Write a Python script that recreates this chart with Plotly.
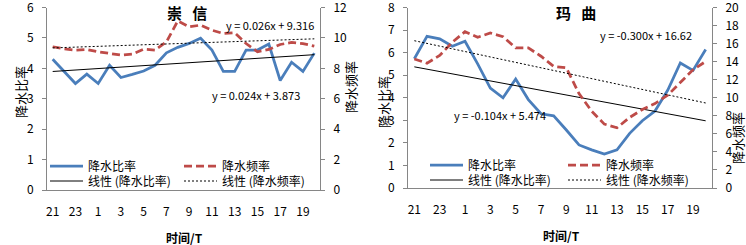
import plotly.graph_objects as go

# ---------------- data ----------------
hours = ["21", "22", "23", "0", "1", "2", "3", "4", "5", "6", "7", "8",
         "9", "10", "11", "12", "13", "14", "15", "16", "17", "18", "19", "20"]
tick_hours = ["21", "23", "1", "3", "5", "7", "9", "11", "13", "15", "17", "19"]

# 崇信
cx_ratio = [4.30, 3.90, 3.50, 3.81, 3.50, 4.10, 3.70, 3.80, 3.91, 4.10, 4.51, 4.69,
            4.82, 4.99, 4.60, 3.90, 3.90, 4.60, 4.60, 4.80, 3.60, 4.20, 3.90, 4.50]
cx_freq = [9.42, 9.28, 9.20, 9.24, 9.09, 8.98, 8.87, 8.93, 9.26, 9.20, 9.74, 11.12,
           10.73, 10.84, 10.51, 10.29, 10.34, 9.63, 9.09, 9.24, 9.57, 9.70, 9.63, 9.46]
cx_ratio_fit = (0.024, 3.873)
cx_freq_fit = (0.026, 9.316)

# 玛曲
mq_ratio = [5.73, 6.72, 6.61, 6.28, 6.50, 5.50, 4.43, 4.00, 4.83, 3.92, 3.29, 3.20,
            2.57, 1.91, 1.69, 1.50, 1.69, 2.42, 2.98, 3.41, 4.33, 5.54, 5.21, 6.14]
mq_freq = [14.30, 13.83, 14.68, 16.15, 17.32, 16.70, 17.17, 16.77, 15.52, 15.52, 14.60, 13.47,
           13.32, 10.46, 8.51, 7.08, 6.68, 7.82, 8.70, 9.36, 10.28, 11.74, 13.10, 14.02]
mq_ratio_fit = (-0.104, 5.474)
mq_freq_fit = (-0.300, 16.62)

titles = ["崇 信", "玛 曲"]
eq_texts = [["y = 0.026x + 9.316", "y = 0.024x + 3.873"],
            ["y = -0.300x + 16.62", "y = -0.104x + 5.474"]]

# ---------------- layout helpers ----------------
W, H = 746, 245
def px(x):
    return x / W
def py(y):
    return 1 - y / H

BLUE = "#4A7EBB"
RED = "#BE4B48"
AX = "#868686"
FONT = "Noto Sans CJK SC"

fig = go.Figure()

def trend(coef):
    a, b = coef
    return [a * (i + 1) + b for i in range(len(hours))]

panels = [
    dict(ratio=cx_ratio, freq=cx_freq, rfit=cx_ratio_fit, ffit=cx_freq_fit,
         xa="x", ya="y", ya2="y2", lg=["legend", "legend2", "legend3", "legend4"]),
    dict(ratio=mq_ratio, freq=mq_freq, rfit=mq_ratio_fit, ffit=mq_freq_fit,
         xa="x2", ya="y3", ya2="y4", lg=["legend5", "legend6", "legend7", "legend8"]),
]

for p in panels:
    fig.add_trace(go.Scatter(x=hours, y=p["ratio"], mode="lines", name="降水比率",
                             line=dict(color=BLUE, width=2.75),
                             xaxis=p["xa"], yaxis=p["ya"], legend=p["lg"][0]))
    fig.add_trace(go.Scatter(x=hours, y=p["freq"], mode="lines", name="降水频率",
                             line=dict(color=RED, width=2.75, dash="8px,4px"),
                             xaxis=p["xa"], yaxis=p["ya2"], legend=p["lg"][1]))
    fig.add_trace(go.Scatter(x=hours, y=trend(p["rfit"]), mode="lines", name="线性 (降水比率)",
                             line=dict(color="#000000", width=1),
                             xaxis=p["xa"], yaxis=p["ya"], legend=p["lg"][2]))
    fig.add_trace(go.Scatter(x=hours, y=trend(p["ffit"]), mode="lines", name="线性 (降水频率)",
                             line=dict(color="#000000", width=1, dash="2px,2px"),
                             xaxis=p["xa"], yaxis=p["ya2"], legend=p["lg"][3]))

def xaxis(domain, anchor):
    return dict(domain=domain, anchor=anchor, type="category", categoryorder="array",
                categoryarray=hours, tickmode="array", tickvals=tick_hours, ticktext=tick_hours,
                showline=True, linecolor=AX, linewidth=1, showgrid=False, zeroline=False,
                ticks="", ticklabelstandoff=11, range=[-0.5, 23.5], tickfont=dict(size=12))

def yaxis(domain, anchor, rng, dtick, side="left", overlaying=None):
    d = dict(domain=domain, anchor=anchor, range=rng, dtick=dtick, tick0=0,
             showline=True, linecolor=AX, linewidth=1, showgrid=False, zeroline=False,
             ticks="outside", ticklen=4, tickcolor=AX, side=side,
             ticklabelstandoff=6, tickfont=dict(size=12), ticklabeloverflow="allow")
    if overlaying:
        d["overlaying"] = overlaying
    return d

def legend(x, y):
    return dict(x=px(x), y=py(y), xanchor="left", yanchor="middle", orientation="v",
                bgcolor="rgba(0,0,0,0)", font=dict(size=12), tracegroupgap=0,
                itemwidth=33, borderwidth=0)

L_dom_x = [px(47), px(320)]
L_dom_y = [py(190), py(7.5)]
R_dom_x = [px(408), px(712)]
R_dom_y = [py(188), py(7.5)]

fig.update_layout(
    width=W, height=H,
    margin=dict(l=0, r=0, t=0, b=0, autoexpand=False),
    paper_bgcolor="white", plot_bgcolor="white",
    font=dict(family=FONT, size=11, color="#000000"),
    showlegend=True,
    xaxis=xaxis(L_dom_x, "y"),
    yaxis=yaxis(L_dom_y, "x", [0, 6], 1),
    yaxis2=yaxis(L_dom_y, "x", [0, 12], 2, side="right", overlaying="y"),
    xaxis2=xaxis(R_dom_x, "y3"),
    yaxis3=yaxis(R_dom_y, "x2", [0, 8], 1),
    yaxis4=yaxis(R_dom_y, "x2", [0, 20], 2, side="right", overlaying="y3"),
    legend=legend(45, 166),
    legend2=legend(179, 166),
    legend3=legend(45, 181),
    legend4=legend(179, 181),
    legend5=legend(425, 165),
    legend6=legend(563, 165),
    legend7=legend(425, 180),
    legend8=legend(563, 180),
)

def spaced(t):
    return t.replace(" ", "&nbsp;&nbsp;&nbsp;")

ann = []
# titles
ann.append(dict(text="<b>" + spaced(titles[0]) + "</b>", x=px(187), y=py(12), font=dict(size=15)))
ann.append(dict(text="<b>" + spaced(titles[1]) + "</b>", x=px(576), y=py(12), font=dict(size=15)))
# equations
ann.append(dict(text=eq_texts[0][0], x=px(270), y=py(25)))
ann.append(dict(text=eq_texts[0][1], x=px(256), y=py(95)))
ann.append(dict(text=eq_texts[1][0], x=px(646), y=py(35)))
ann.append(dict(text=eq_texts[1][1], x=px(500), y=py(115)))
# x titles
ann.append(dict(text="<b>时间/T</b>", x=px(184), y=py(237), font=dict(size=12)))
ann.append(dict(text="<b>时间/T</b>", x=px(561), y=py(235), font=dict(size=12)))
# y titles
ann.append(dict(text="降水比率", x=px(20), y=py(92), textangle=-90, font=dict(size=13)))
ann.append(dict(text="降水频率", x=px(350), y=py(87), textangle=-90, font=dict(size=13)))
ann.append(dict(text="降水比率", x=px(383), y=py(102), textangle=-90, font=dict(size=13)))
ann.append(dict(text="降水频率", x=px(737), y=py(138), textangle=-90, font=dict(size=13)))

for a in ann:
    a.update(xref="paper", yref="paper", showarrow=False, xanchor="center", yanchor="middle")
    a.setdefault("font", dict(size=11))
fig.update_layout(annotations=ann)

fig.write_html("out.html", config={"displayModeBar": False},
               post_script="document.body.style.margin='0px';")
